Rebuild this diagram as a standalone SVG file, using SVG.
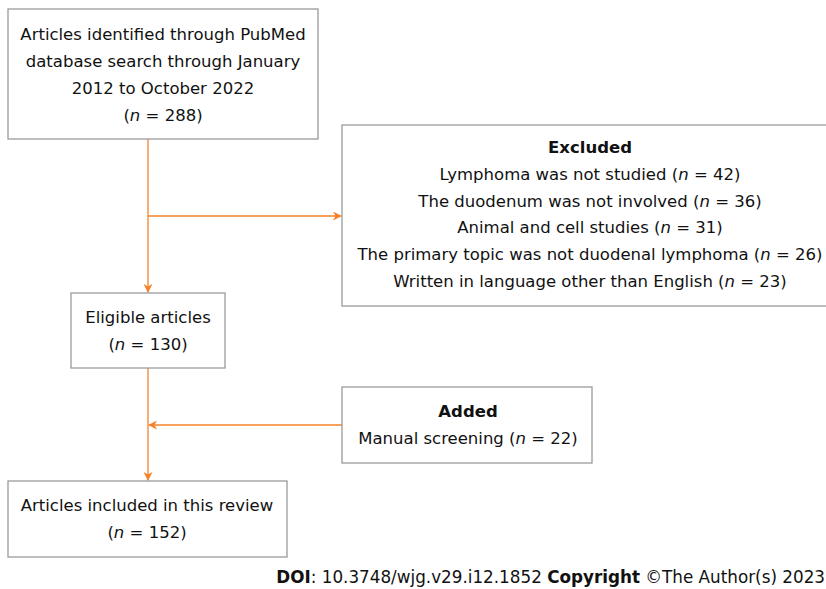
<svg xmlns="http://www.w3.org/2000/svg" width="826" height="589" viewBox="0 0 826 589">
<defs>
<style>
.box{fill:#fff;stroke:#9a9a9a;stroke-width:1.3}
.t{font-family:"DejaVu Sans","Liberation Sans",sans-serif;font-size:16.5px;fill:#111;text-anchor:middle}
.f{font-size:16.8px;text-anchor:end}
.b{font-weight:bold}
.i{font-style:italic}
.c{fill:none;stroke:#F5822A;stroke-width:1.3}
</style>
<marker id="ah" viewBox="0 0 10 10" refX="9" refY="5" markerWidth="9" markerHeight="9" markerUnits="userSpaceOnUse" orient="auto">
<path d="M0,0 L10,5 L0,10 L3,5 Z" fill="#F5822A"/>
</marker>
</defs>
<rect width="826" height="589" fill="#fff"/>
<g id="connectors">
<path class="c" d="M148,139 V292" marker-end="url(#ah)"/>
<path class="c" d="M148,216 H341" marker-end="url(#ah)"/>
<path class="c" d="M148,368 V480" marker-end="url(#ah)"/>
<path class="c" d="M342,425 H149" marker-end="url(#ah)"/>
</g>
<g id="identified">
<rect class="box" x="8" y="9" width="310" height="130"/>
<text class="t" x="163" y="40">Articles identified through PubMed</text>
<text class="t" x="163" y="67">database search through January</text>
<text class="t" x="163" y="94">2012 to October 2022</text>
<text class="t" x="163" y="121">(<tspan class="i">n</tspan> = 288)</text>
</g>
<g id="excluded">
<rect class="box" x="342" y="125" width="490" height="181"/>
<text class="t b" x="590" y="153">Excluded</text>
<text class="t" x="590" y="180">Lymphoma was not studied (<tspan class="i">n</tspan> = 42)</text>
<text class="t" x="590" y="207">The duodenum was not involved (<tspan class="i">n</tspan> = 36)</text>
<text class="t" x="590" y="233">Animal and cell studies (<tspan class="i">n</tspan> = 31)</text>
<text class="t" x="590" y="260">The primary topic was not duodenal lymphoma (<tspan class="i">n</tspan> = 26)</text>
<text class="t" x="590" y="287">Written in language other than English (<tspan class="i">n</tspan> = 23)</text>
</g>
<g id="eligible">
<rect class="box" x="71" y="293" width="154" height="75"/>
<text class="t" x="148" y="323">Eligible articles</text>
<text class="t" x="148" y="350">(<tspan class="i">n</tspan> = 130)</text>
</g>
<g id="added">
<rect class="box" x="342" y="387" width="250" height="76"/>
<text class="t b" x="468" y="417">Added</text>
<text class="t" x="468" y="444">Manual screening (<tspan class="i">n</tspan> = 22)</text>
</g>
<g id="included">
<rect class="box" x="8" y="481" width="279" height="76"/>
<text class="t" x="147" y="511">Articles included in this review</text>
<text class="t" x="147" y="538">(<tspan class="i">n</tspan> = 152)</text>
</g>
<text class="t f" x="825" y="583"><tspan class="b">DOI</tspan>: 10.3748/wjg.v29.i12.1852 <tspan class="b">Copyright</tspan> ©The Author(s) 2023</text>
</svg>
